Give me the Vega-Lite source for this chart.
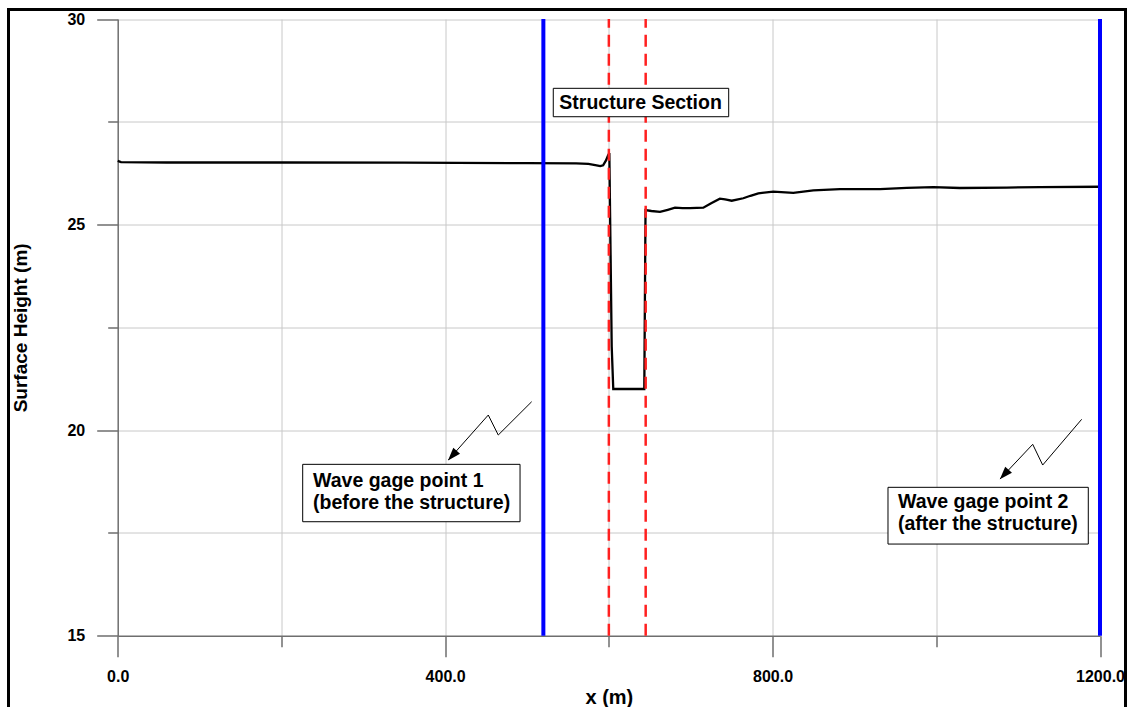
{
  "$schema": "https://vega.github.io/schema/vega-lite/v6.json",
  "width": 1117,
  "height": 700.5,
  "autosize": {"type": "none"},
  "padding": {"left": 8.5, "top": 9.5, "right": 1.5, "bottom": -3},
  "background": "white",
  "config": {
    "font": "Liberation Sans",
    "view": {"stroke": "black", "strokeWidth": 3}
  },
  "datasets": {
    "profile": [
      {"x": 0, "h": 26.55}, {"x": 4, "h": 26.52}, {"x": 60, "h": 26.51}, {"x": 200, "h": 26.51},
      {"x": 350, "h": 26.505}, {"x": 500, "h": 26.495}, {"x": 560, "h": 26.49}, {"x": 575, "h": 26.475},
      {"x": 585, "h": 26.44}, {"x": 589.5, "h": 26.42}, {"x": 593, "h": 26.44}, {"x": 596.5, "h": 26.56},
      {"x": 599, "h": 26.68}, {"x": 600.6, "h": 26.74}, {"x": 603.5, "h": 22.03}, {"x": 605.4, "h": 21.0},
      {"x": 643.3, "h": 21.0}, {"x": 644.8, "h": 25.35}, {"x": 652, "h": 25.33}, {"x": 662.5, "h": 25.31},
      {"x": 672, "h": 25.36}, {"x": 680.8, "h": 25.41}, {"x": 690, "h": 25.4}, {"x": 699.1, "h": 25.4},
      {"x": 715.4, "h": 25.41}, {"x": 725, "h": 25.52}, {"x": 735.6, "h": 25.63}, {"x": 742, "h": 25.61},
      {"x": 750.1, "h": 25.58}, {"x": 764.2, "h": 25.64}, {"x": 773, "h": 25.7}, {"x": 782.6, "h": 25.76},
      {"x": 800.9, "h": 25.8}, {"x": 825.3, "h": 25.77}, {"x": 849.8, "h": 25.83}, {"x": 882.4, "h": 25.86},
      {"x": 931.3, "h": 25.86}, {"x": 963.9, "h": 25.89}, {"x": 996.3, "h": 25.91}, {"x": 1028.9, "h": 25.89},
      {"x": 1086, "h": 25.9}, {"x": 1126.7, "h": 25.91}, {"x": 1200, "h": 25.92}
    ],
    "gages": [{"x": 520}, {"x": 1200}],
    "structure": [{"x": 600}, {"x": 645}],
    "arrows": [
      {"id": 1, "ord": 0, "x": 505.7, "y": 20.691},
      {"id": 1, "ord": 1, "x": 464.9, "y": 19.881},
      {"id": 1, "ord": 2, "x": 452.7, "y": 20.367},
      {"id": 1, "ord": 3, "x": 403.9, "y": 19.273},
      {"id": 2, "ord": 0, "x": 1177.6, "y": 20.263},
      {"id": 2, "ord": 1, "x": 1130.0, "y": 19.151},
      {"id": 2, "ord": 2, "x": 1117.8, "y": 19.655},
      {"id": 2, "ord": 3, "x": 1077.8, "y": 18.81}
    ],
    "heads": [
      {"id": 1, "x": 408.8, "y": 19.38},
      {"id": 2, "x": 1083.0, "y": 18.92}
    ],
    "boxes": [
      {"x1": 532.1, "x2": 746.4, "y1": 28.314, "y2": 27.623},
      {"x1": 226.0, "x2": 491.5, "y1": 19.168, "y2": 17.772},
      {"x1": 941.0, "x2": 1185.7, "y1": 18.609, "y2": 17.229}
    ],
    "notes": [
      {"x": 539.5, "y": 27.969, "text": "Structure Section"},
      {"x": 238.6, "y": 18.76, "text": "Wave gage point 1\n(before the structure)"},
      {"x": 953.2, "y": 18.25, "text": "Wave gage point 2\n(after the structure)"}
    ]
  },
  "resolve": {"axis": {"x": "independent", "y": "independent"}},
  "layer": [
    {
      "data": {"name": "profile"},
      "mark": {"type": "line", "color": "black", "strokeWidth": 2.3, "clip": false},
      "encoding": {
        "x": {
          "field": "x", "type": "quantitative",
          "scale": {"domain": [0, 1200], "range": [109.2, 1091.5], "nice": false, "zero": false},
          "axis": {
            "orient": "bottom", "offset": -74.3,
            "values": [0, 200, 400, 600, 800, 1000, 1200],
            "grid": false,
            "title": "x (m)", "titleFontSize": 20, "titleFontWeight": "bold", "titleColor": "black", "titlePadding": 3,
            "labelExpr": "datum.value % 400 == 0 ? format(datum.value, '.1f') : ''",
            "labelFontSize": 16, "labelFontWeight": "bold", "labelColor": "black", "labelPadding": 12,
            "labelFlush": false, "labelOverlap": false,
            "tickSize": {"condition": {"test": "datum.value % 400 == 0", "value": 21}, "value": 11},
            "tickColor": "#6e6e6e", "tickWidth": 1.5,
            "domainColor": "#6e6e6e", "domainWidth": 1.5
          }
        },
        "y": {
          "field": "h", "type": "quantitative",
          "scale": {"domain": [15, 30], "range": [626.2, 9.5], "nice": false, "zero": false},
          "axis": {
            "orient": "left", "offset": -109.2,
            "values": [15, 17.5, 20, 22.5, 25, 27.5, 30],
            "grid": true, "gridColor": "#c8c8c8", "gridWidth": 1,
            "gridOpacity": {"condition": {"test": "datum.value == 15", "value": 0}, "value": 1},
            "title": "Surface Height (m)", "titleFontSize": 19, "titleFontWeight": "bold", "titleColor": "black", "titlePadding": 36,
            "labelExpr": "datum.value % 5 == 0 ? format(datum.value, 'd') : ''",
            "labelFontSize": 16, "labelFontWeight": "bold", "labelColor": "black", "labelPadding": 12,
            "labelFlush": false, "labelOverlap": false,
            "tickSize": {"condition": {"test": "datum.value % 5 == 0", "value": 21}, "value": 10},
            "tickColor": "#6e6e6e", "tickWidth": 1.5,
            "domainColor": "#6e6e6e", "domainWidth": 1.5
          }
        }
      }
    },
    {
      "data": {"name": "gages"},
      "mark": {"type": "rule", "color": "#0000ff", "strokeWidth": 4},
      "encoding": {
        "x": {
          "field": "x", "type": "quantitative",
          "axis": {
            "orient": "top", "values": [200, 400, 600, 800, 1000],
            "grid": true, "gridColor": "#c8c8c8", "gridWidth": 1,
            "domain": false, "ticks": false, "labels": false, "title": null
          }
        },
        "y": {"datum": 15, "type": "quantitative", "axis": null},
        "y2": {"datum": 30}
      }
    },
    {
      "data": {"name": "structure"},
      "mark": {"type": "rule", "color": "#ff2020", "strokeWidth": 2.5, "strokeDash": [12, 7]},
      "encoding": {
        "x": {"field": "x", "type": "quantitative", "axis": null},
        "y": {"datum": 15, "type": "quantitative", "axis": null},
        "y2": {"datum": 30}
      }
    },
    {
      "data": {"name": "arrows"},
      "mark": {"type": "line", "color": "black", "strokeWidth": 1},
      "encoding": {
        "x": {"field": "x", "type": "quantitative", "axis": null},
        "y": {"field": "y", "type": "quantitative", "axis": null},
        "detail": {"field": "id"},
        "order": {"field": "ord"}
      }
    },
    {
      "data": {"name": "heads"},
      "mark": {"type": "point", "shape": "M0,-1L0.7,1L-0.7,1Z", "filled": true, "color": "black", "opacity": 1, "size": 169, "angle": 222},
      "encoding": {
        "x": {"field": "x", "type": "quantitative", "axis": null},
        "y": {"field": "y", "type": "quantitative", "axis": null}
      }
    },
    {
      "data": {"name": "boxes"},
      "mark": {"type": "rect", "fill": "white", "stroke": "black", "strokeWidth": 1},
      "encoding": {
        "x": {"field": "x1", "type": "quantitative", "axis": null},
        "x2": {"field": "x2"},
        "y": {"field": "y1", "type": "quantitative", "axis": null},
        "y2": {"field": "y2"}
      }
    },
    {
      "data": {"name": "notes"},
      "mark": {"type": "text", "align": "left", "baseline": "middle", "fontSize": 19.5, "fontWeight": "bold", "color": "black", "lineBreak": "\n", "lineHeight": 22},
      "encoding": {
        "x": {"field": "x", "type": "quantitative", "axis": null},
        "y": {"field": "y", "type": "quantitative", "axis": null},
        "text": {"field": "text"}
      }
    }
  ]
}
